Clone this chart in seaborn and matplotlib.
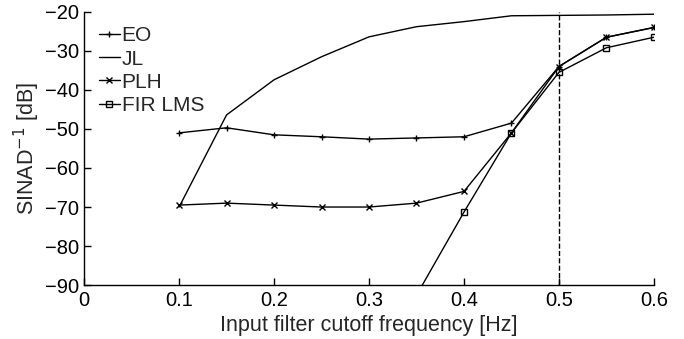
import numpy as np
import pandas as pd
import seaborn as sb
import matplotlib
matplotlib.use("Agg")
import matplotlib.pyplot as plt

# values
freq = [0.1, 0.15, 0.2, 0.25, 0.3, 0.35, 0.4, 0.45, 0.5, 0.55, 0.6]
eo = [-51.0, -49.7, -51.5, -52.0, -52.6, -52.3, -52.0, -48.5, -34.0, -26.5, -24.0]
jl = [-70.0, -46.4, -37.4, -31.5, -26.4, -23.8, -22.5, -21.0, -20.9, -20.8, -20.6]
plh = [-69.5, -69.0, -69.5, -70.0, -70.0, -69.0, -66.0, -51.0, -34.0, -26.5, -24.0]
fir_freq = [0.35, 0.4, 0.45, 0.5, 0.55, 0.6]
fir = [-92.6, -71.3, -51.0, -35.5, -29.2, -26.5]
cutoff = 0.5

sb.set_style("ticks")
plt.rcParams['font.family'] = ['Liberation Sans', 'DejaVu Sans']
plt.rcParams['font.size'] = 14

fig = plt.figure(figsize=(6.84, 3.39), dpi=100)
ax = fig.add_axes([0.123, 0.159, 0.833, 0.806])

series = [("EO", freq, eo, "+"), ("JL", freq, jl, None),
          ("PLH", freq, plh, "x"), ("FIR LMS", fir_freq, fir, "s")]
for name, xs, ys, mk in series:
    d = pd.DataFrame({"f": xs, "v": ys})
    sb.lineplot(data=d, x="f", y="v", ax=ax, color="black", lw=1,
                marker=mk, markersize=5, markerfacecolor="none",
                markeredgecolor="black", markeredgewidth=1, label=name)

ax.axvline(cutoff, color="black", ls="--", lw=1)

ax.set_xlim(0, 0.6)
ax.set_ylim(-90, -20)
ax.set_xticks([0, 0.1, 0.2, 0.3, 0.4, 0.5, 0.6])
ax.set_xticklabels(["0", "0.1", "0.2", "0.3", "0.4", "0.5", "0.6"])
ax.set_yticks(range(-90, -19, 10))
ax.tick_params(direction="in", length=5, width=1, colors="black", labelsize=14.5)
ax.tick_params(axis="x", pad=4)
ax.set_xlabel("Input filter cutoff frequency [Hz]", fontsize=15.5, labelpad=4)
ax.set_ylabel("SINAD$^{-1}$ [dB]", fontsize=15.5, labelpad=2)
sb.despine(ax=ax)
for s in ["left", "bottom"]:
    ax.spines[s].set_color("black")
    ax.spines[s].set_linewidth(1)

leg = ax.legend(loc="upper left", frameon=False, handlelength=1.0, handletextpad=0.1,
                labelspacing=0.2, borderaxespad=0.3, fontsize=15, markerscale=0.8)

fig.savefig("out.png", dpi=100)
